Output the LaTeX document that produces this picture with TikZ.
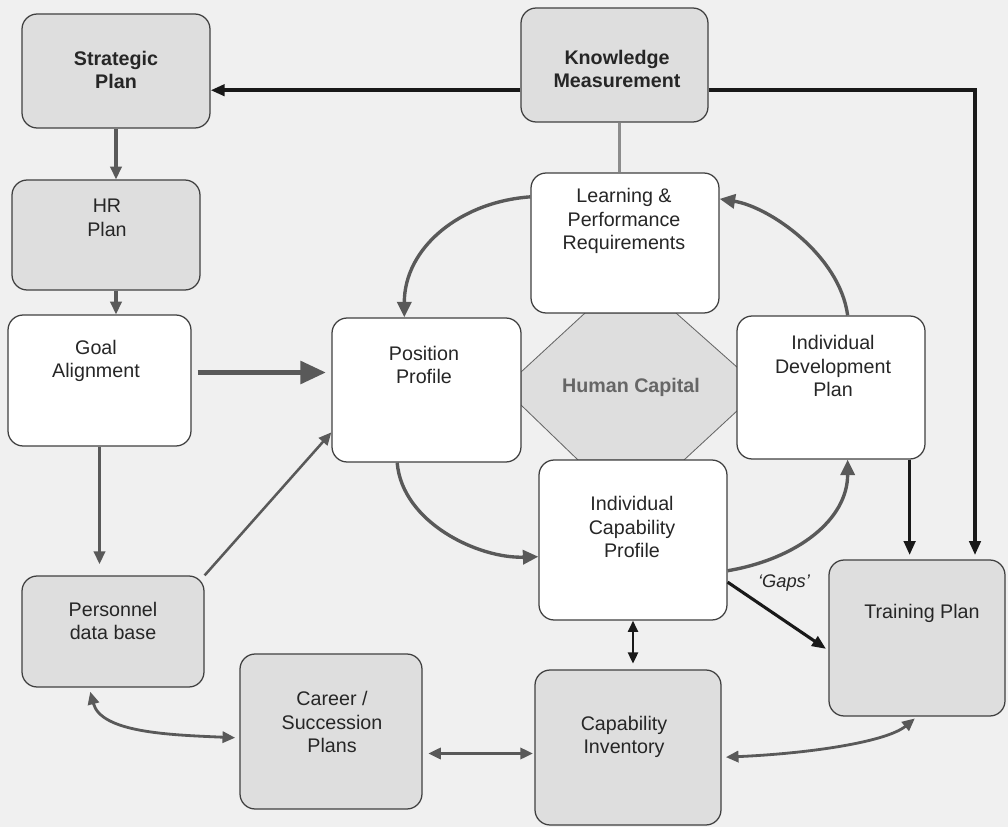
\documentclass[tikz,border=0pt]{standalone}
\usepackage{fontspec}
\setmainfont{Liberation Sans}
\usetikzlibrary{arrows.meta,calc,fit}

\begin{document}
\begin{tikzpicture}[x=0.025cm,y=-0.025cm,
  every node/.style={font=\fontsize{14}{16.7}\selectfont, text=black!85},
  box/.style={draw=black!75, line width=0.9pt, rounded corners=0.38cm, inner sep=0pt},
  gbox/.style={box, fill=black!13},
  wbox/.style={box, fill=white},
  txt/.style={align=center, inner sep=0pt},
  hcap/.style={draw=black!60, line width=0.6pt, fill=black!13},
  blk/.style={draw=black!90, line width=2.5pt, -{Triangle[length=10pt,width=8pt]}},
  blkthin/.style={draw=black!90, line width=1.8pt},
  garr/.style={draw=black!65, line width=2.2pt, -{Triangle[length=9pt,width=8pt]}},
  gcurve/.style={draw=black!65, line width=2.4pt, -{Triangle[length=11pt,width=10pt]}},
  gboth/.style={draw=black!65, line width=2pt, {Triangle[length=9pt,width=8pt]}-{Triangle[length=9pt,width=8pt]}},
  bigarr/.style={draw=black!65, line width=3pt, -{Triangle[length=18pt,width=16pt]}},
]
\useasboundingbox[fill=black!6] (0,0) rectangle (1008,827);

% central hub
\draw[hcap] (585,313) -- (676,313) -- (738,368) -- (738,410) -- (684,460)
  -- (578,460) -- (521,405) -- (521,372) -- cycle;
\node[txt, font=\fontsize{14}{16.7}\selectfont\bfseries, text=black!60] (hc) at (631,387) {Human Capital};

% boxes
\node[gbox, fit={(22,14)(210,128)}] (sp) {};
\node[gbox, fit={(521,8)(708,122)}] (km) {};
\node[gbox, fit={(12,180)(200,290)}] (hr) {};
\node[wbox, fit={(531,173)(719,313)}] (lp) {};
\node[wbox, fit={(8,315)(191,446)}] (ga) {};
\node[wbox, fit={(332,318)(521,462)}] (pp) {};
\node[wbox, fit={(737,316)(925,459)}] (idp) {};
\node[wbox, fit={(539,460)(727,620)}] (icp) {};
\node[gbox, fit={(22,576)(204,687)}] (pdb) {};
\node[gbox, fit={(829,560)(1005,716)}] (tp) {};
\node[gbox, fit={(240,654)(422,809)}] (csp) {};
\node[gbox, fit={(535,670)(721,825)}] (ci) {};

% box texts
\node[txt, font=\fontsize{14}{16.7}\selectfont\bfseries] (spt) at (116,70) {Strategic\\Plan};
\node[txt, font=\fontsize{14}{16.7}\selectfont\bfseries] (kmt) at (617,69) {Knowledge\\Measurement};
\node[txt] (hrt) at (107,218) {HR\\Plan};
\node[txt] (lpt) at (624,221) {Learning \&\\Performance\\Requirements};
\node[txt] (gat) at (96,361) {Goal\\Alignment};
\node[txt] (ppt) at (424,365) {Position\\Profile};
\node[txt] (idpt) at (833,366) {Individual\\Development\\Plan};
\node[txt] (icpt) at (632,527) {Individual\\Capability\\Profile};
\node[txt] (pdbt) at (113,621) {Personnel\\data base};
\node[txt] (tpt) at (922,613) {Training Plan};
\node[txt] (cspt) at (332,722) {Career /\\Succession\\Plans};
\node[txt] (cit) at (624,737) {Capability\\Inventory};

% top feedback lines
\draw[blk] (km.195) -- (km.195 -| sp.east);
\draw[blk, shorten >=3pt] (km.-15) -| ($(tp.north)+(58,0)$);
\draw[draw=black!45, line width=2.4pt] ($(km.south)+(5,0)$) coordinate (k1) -- (k1 |- lp.north);

% left column
\draw[garr] (sp.south) -- (sp.south |- hr.north);
\draw[garr] ($(hr.south)+(10,0)$) coordinate (h1) -- (h1 |- ga.north);
\draw[garr, shorten >=8pt] (ga.south) -- (ga.south |- pdb.north);
\draw[bigarr, shorten >=4pt] ($(ga.east)+(6,-8)$) coordinate (g1) -- (g1 -| pp.west);
\draw[garr, line width=1.8pt] (pdb.north east) -- (pp.204);

% ring around the hub
\draw[gcurve] (lp.154) .. controls +(-70,5) and +(0,-70) .. (pp.107);
\draw[gcurve] (idp.77) .. controls +(-8,-60) and +(50,8) .. (lp.25);
\draw[gcurve] (pp.248) .. controls +(5,60) and +(-60,2) .. (icp.190);
\draw[gcurve] (icp.342) .. controls +(70,-12) and +(0,60) .. (idp.283);

% towards the training plan
\draw[blk, shorten >=3pt] ($(idp.south east)+(-16,0)$) coordinate (d1) -- (d1 |- tp.north);
\draw[blk, line width=2.2pt, shorten >=2pt] (icp.336) -- (tp.188);
\node[txt, font=\fontsize{13}{15}\selectfont\itshape] (gaps) at (784,583) {`Gaps'};

% lower exchanges
\draw[blkthin, {Triangle[length=8pt,width=7pt]}-{Triangle[length=8pt,width=7pt]}, shorten >=4pt]
  (icp.south) -- (icp.south |- ci.north);
\draw[gboth, shorten <=4pt, shorten >=1pt] ($(csp.east)+(0,22)$) coordinate (c1) -- (c1 -| ci.west);
\draw[gboth, shorten <=3pt, shorten >=3pt] (pdb.247) .. controls +(12,45) and +(-70,-3) .. (csp.184);
\draw[gboth, shorten <=3pt, shorten >=2pt] (ci.354) .. controls +(90,-4) and +(-30,25) .. (tp.south);
\end{tikzpicture}
\end{document}
